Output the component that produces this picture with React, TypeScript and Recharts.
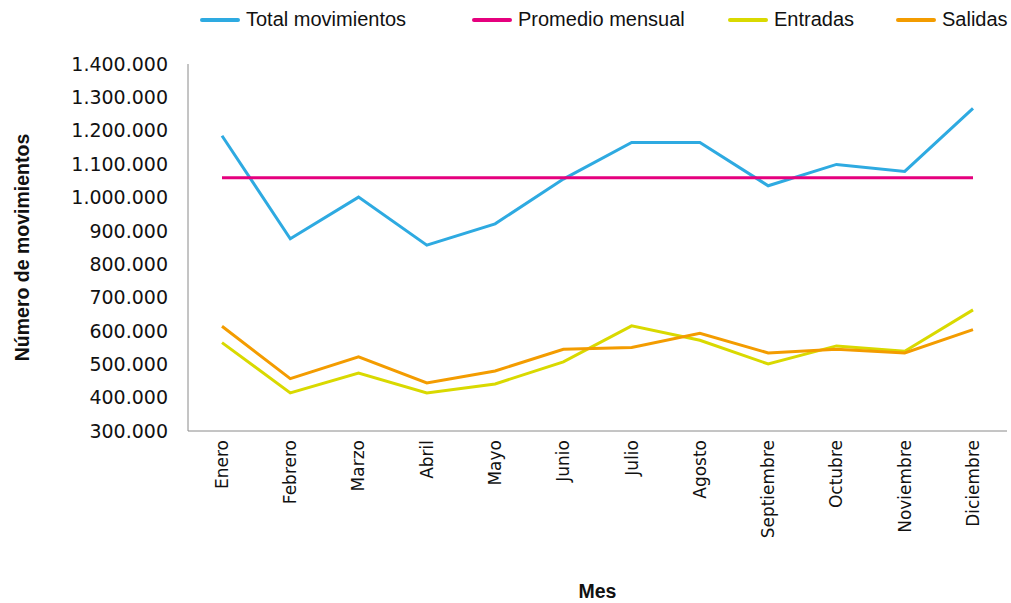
import React from 'react';
import { LineChart, Line, XAxis, YAxis, Legend } from 'recharts';

const meses = [
  'Enero', 'Febrero', 'Marzo', 'Abril', 'Mayo', 'Junio',
  'Julio', 'Agosto', 'Septiembre', 'Octubre', 'Noviembre', 'Diciembre',
];
const totalMovimientos = [
  1185000, 876000, 1001000, 857000, 921000, 1055000,
  1165000, 1165000, 1035000, 1099000, 1078000, 1267000,
];
const promedioMensual = [
  1059000, 1059000, 1059000, 1059000, 1059000, 1059000,
  1059000, 1059000, 1059000, 1059000, 1059000, 1059000,
];
const entradas = [
  565000, 414000, 474000, 414000, 441000, 507000,
  615000, 572000, 501000, 555000, 539000, 663000,
];
const salidas = [
  614000, 457000, 522000, 444000, 480000, 545000,
  550000, 593000, 534000, 545000, 534000, 604000,
];
const yTicks = [
  300000, 400000, 500000, 600000, 700000, 800000,
  900000, 1000000, 1100000, 1200000, 1300000, 1400000,
];

const series = [
  { key: 'total', name: 'Total movimientos', color: '#2eaae1' },
  { key: 'promedio', name: 'Promedio mensual', color: '#e5007e' },
  { key: 'entradas', name: 'Entradas', color: '#d9d900' },
  { key: 'salidas', name: 'Salidas', color: '#f39c00' },
];

// legend item left edges, as in the original layout
const legendLeft = [200, 472, 728, 896];

const data = meses.map((mes, i) => ({
  mes,
  total: totalMovimientos[i],
  promedio: promedioMensual[i],
  entradas: entradas[i],
  salidas: salidas[i],
}));

const fmt = (v: number) => String(v).replace(/\B(?=(\d{3})+(?!\d))/g, '.');

function MonthTick({ x, y, payload }: any) {
  return (
    <text
      x={x}
      y={y}
      transform={`rotate(-90 ${x} ${y})`}
      textAnchor="end"
      dy="0.35em"
      fontFamily="DejaVu Sans"
      fontSize={17}
      fill="#111"
    >
      {payload.value}
    </text>
  );
}

function ChartLegend() {
  return (
    <div
      style={{
        position: 'relative',
        height: 40,
        width: 1011,
        fontFamily: 'Liberation Sans',
        fontSize: 20,
        color: '#111',
        whiteSpace: 'nowrap',
      }}
    >
      {series.map((s, i) => (
        <div
          key={s.key}
          style={{
            position: 'absolute',
            left: legendLeft[i],
            top: 8,
            display: 'flex',
            alignItems: 'center',
            gap: 6,
          }}
        >
          <div style={{ width: 40, height: 4, borderRadius: 2, background: s.color }} />
          <span>{s.name}</span>
        </div>
      ))}
    </div>
  );
}

export default function App() {
  return (
    <div style={{ position: 'absolute', left: 0, top: 0, width: 1011, height: 603, background: '#fff' }}>
      <LineChart
        width={1011}
        height={603}
        data={data}
        margin={{ top: 24, right: 4, bottom: 0, left: 0 }}
      >
        <Legend
          verticalAlign="top"
          height={40}
          content={<ChartLegend />}
          wrapperStyle={{ top: 0, left: 0 }}
        />
        <XAxis
          dataKey="mes"
          interval={0}
          height={172}
          padding={{ left: 34, right: 34 }}
          tickLine={false}
          tickSize={0}
          tickMargin={9}
          axisLine={{ stroke: '#8a8a8a' }}
          tick={<MonthTick />}
          label={{
            value: 'Mes',
            position: 'insideBottom',
            offset: 5,
            fontFamily: 'Liberation Sans',
            fontWeight: 'bold',
            fontSize: 19.5,
            fill: '#111',
          }}
        />
        <YAxis
          width={188}
          domain={[300000, 1400000]}
          ticks={yTicks}
          interval={0}
          tickFormatter={fmt}
          tickLine={false}
          tickSize={0}
          tickMargin={20}
          axisLine={{ stroke: '#8a8a8a' }}
          tick={{ fontFamily: 'DejaVu Sans', fontSize: 19, fill: '#111' }}
          label={{
            value: 'Número de movimientos',
            angle: -90,
            position: 'insideLeft',
            offset: 22,
            style: { textAnchor: 'middle' },
            fontFamily: 'Liberation Sans',
            fontWeight: 'bold',
            fontSize: 19.5,
            fill: '#111',
          }}
        />
        {series.map((s) => (
          <Line
            key={s.key}
            type="linear"
            dataKey={s.key}
            name={s.name}
            stroke={s.color}
            strokeWidth={3}
            dot={false}
            activeDot={false}
            isAnimationActive={false}
          />
        ))}
      </LineChart>
    </div>
  );
}
